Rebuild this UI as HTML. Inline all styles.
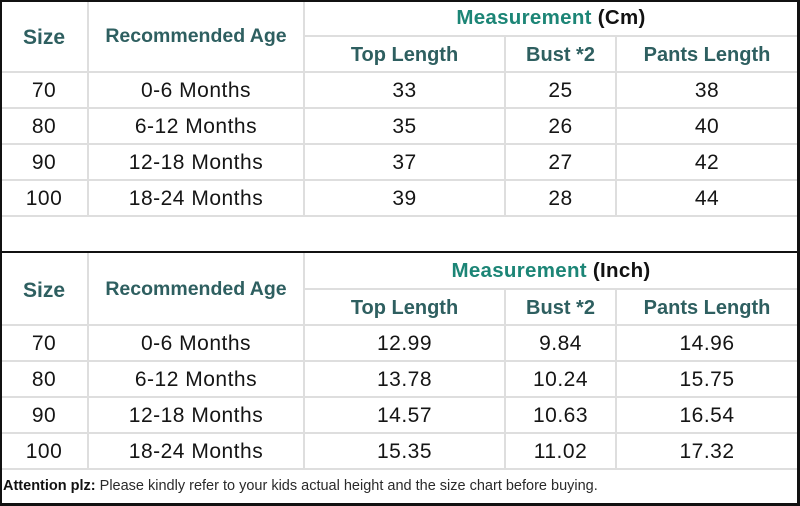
<!DOCTYPE html>
<html><head><meta charset="utf-8">
<style>
html,body{margin:0;padding:0;background:#fff;}
#c{position:relative;width:800px;height:506px;overflow:hidden;background:#fff;font-family:"Liberation Sans",sans-serif;}
.h{position:absolute;height:2px;background:#dedede;}
.v{position:absolute;width:2px;background:#dedede;}
.b{position:absolute;background:#111;}
.t{position:absolute;text-align:center;white-space:nowrap;line-height:1;}
.hd{color:#2e5f60;font-weight:bold;font-size:20px;}
.d{color:#151515;font-size:21px;letter-spacing:0.5px;}
</style></head><body><div id="c">
<!-- top table lines -->
<div class="h" style="left:304px;top:35px;width:494px"></div>
<div class="h" style="left:2px;top:71px;width:796px"></div>
<div class="h" style="left:2px;top:107px;width:796px"></div>
<div class="h" style="left:2px;top:143px;width:796px"></div>
<div class="h" style="left:2px;top:179px;width:796px"></div>
<div class="h" style="left:2px;top:215px;width:796px"></div>
<div class="v" style="left:87px;top:2px;height:214px"></div>
<div class="v" style="left:303px;top:2px;height:214px"></div>
<div class="v" style="left:504px;top:36px;height:180px"></div>
<div class="v" style="left:615px;top:36px;height:180px"></div>
<!-- bottom table lines -->
<div class="h" style="left:304px;top:288px;width:494px"></div>
<div class="h" style="left:2px;top:324px;width:796px"></div>
<div class="h" style="left:2px;top:360px;width:796px"></div>
<div class="h" style="left:2px;top:396px;width:796px"></div>
<div class="h" style="left:2px;top:432px;width:796px"></div>
<div class="h" style="left:2px;top:468px;width:796px"></div>
<div class="v" style="left:87px;top:253px;height:216px"></div>
<div class="v" style="left:303px;top:253px;height:216px"></div>
<div class="v" style="left:504px;top:289px;height:180px"></div>
<div class="v" style="left:615px;top:289px;height:180px"></div>
<!-- borders -->
<div class="b" style="left:0;top:0;width:800px;height:2px"></div>
<div class="b" style="left:0;top:0;width:2px;height:506px"></div>
<div class="b" style="left:797px;top:0;width:3px;height:506px"></div>
<div class="b" style="left:0;top:251px;width:800px;height:2px"></div>
<div class="b" style="left:0;top:503px;width:800px;height:3px"></div>

<!-- top table text -->
<div class="t hd" style="left:0;width:88px;top:27px;font-size:21px">Size</div>
<div class="t hd" style="left:88px;width:216px;top:27px;font-size:19.5px">Recommended Age</div>
<div class="t" style="left:304px;width:494px;top:8px;font-size:20.5px;font-weight:bold;letter-spacing:0.3px"><span style="color:#1c8576">Measurement</span> <span style="color:#111">(Cm)</span></div>
<div class="t hd" style="left:304px;width:201px;top:45px">Top Length</div>
<div class="t hd" style="left:505px;width:111px;top:45px">Bust *2</div>
<div class="t hd" style="left:616px;width:182px;top:45px">Pants Length</div>

<div class="t d" style="left:0;width:88px;top:80px">70</div>
<div class="t d" style="left:88px;width:216px;top:80px">0-6 Months</div>
<div class="t d" style="left:304px;width:201px;top:80px">33</div>
<div class="t d" style="left:505px;width:111px;top:80px">25</div>
<div class="t d" style="left:616px;width:182px;top:80px">38</div>

<div class="t d" style="left:0;width:88px;top:116px">80</div>
<div class="t d" style="left:88px;width:216px;top:116px">6-12 Months</div>
<div class="t d" style="left:304px;width:201px;top:116px">35</div>
<div class="t d" style="left:505px;width:111px;top:116px">26</div>
<div class="t d" style="left:616px;width:182px;top:116px">40</div>

<div class="t d" style="left:0;width:88px;top:152px">90</div>
<div class="t d" style="left:88px;width:216px;top:152px">12-18 Months</div>
<div class="t d" style="left:304px;width:201px;top:152px">37</div>
<div class="t d" style="left:505px;width:111px;top:152px">27</div>
<div class="t d" style="left:616px;width:182px;top:152px">42</div>

<div class="t d" style="left:0;width:88px;top:188px">100</div>
<div class="t d" style="left:88px;width:216px;top:188px">18-24 Months</div>
<div class="t d" style="left:304px;width:201px;top:188px">39</div>
<div class="t d" style="left:505px;width:111px;top:188px">28</div>
<div class="t d" style="left:616px;width:182px;top:188px">44</div>

<!-- bottom table text -->
<div class="t hd" style="left:0;width:88px;top:280px;font-size:21px">Size</div>
<div class="t hd" style="left:88px;width:216px;top:280px;font-size:19.5px">Recommended Age</div>
<div class="t" style="left:304px;width:494px;top:261px;font-size:20.5px;font-weight:bold;letter-spacing:0.3px"><span style="color:#1c8576">Measurement</span> <span style="color:#111">(Inch)</span></div>
<div class="t hd" style="left:304px;width:201px;top:298px">Top Length</div>
<div class="t hd" style="left:505px;width:111px;top:298px">Bust *2</div>
<div class="t hd" style="left:616px;width:182px;top:298px">Pants Length</div>

<div class="t d" style="left:0;width:88px;top:333px">70</div>
<div class="t d" style="left:88px;width:216px;top:333px">0-6 Months</div>
<div class="t d" style="left:304px;width:201px;top:333px">12.99</div>
<div class="t d" style="left:505px;width:111px;top:333px">9.84</div>
<div class="t d" style="left:616px;width:182px;top:333px">14.96</div>

<div class="t d" style="left:0;width:88px;top:369px">80</div>
<div class="t d" style="left:88px;width:216px;top:369px">6-12 Months</div>
<div class="t d" style="left:304px;width:201px;top:369px">13.78</div>
<div class="t d" style="left:505px;width:111px;top:369px">10.24</div>
<div class="t d" style="left:616px;width:182px;top:369px">15.75</div>

<div class="t d" style="left:0;width:88px;top:405px">90</div>
<div class="t d" style="left:88px;width:216px;top:405px">12-18 Months</div>
<div class="t d" style="left:304px;width:201px;top:405px">14.57</div>
<div class="t d" style="left:505px;width:111px;top:405px">10.63</div>
<div class="t d" style="left:616px;width:182px;top:405px">16.54</div>

<div class="t d" style="left:0;width:88px;top:441px">100</div>
<div class="t d" style="left:88px;width:216px;top:441px">18-24 Months</div>
<div class="t d" style="left:304px;width:201px;top:441px">15.35</div>
<div class="t d" style="left:505px;width:111px;top:441px">11.02</div>
<div class="t d" style="left:616px;width:182px;top:441px">17.32</div>

<div class="t" style="left:3px;top:479px;font-size:14.5px;color:#2a2a2a;text-align:left"><b style="color:#111">Attention plz:</b> Please kindly refer to your kids actual height and the size chart before buying.</div>
</div></body></html>
